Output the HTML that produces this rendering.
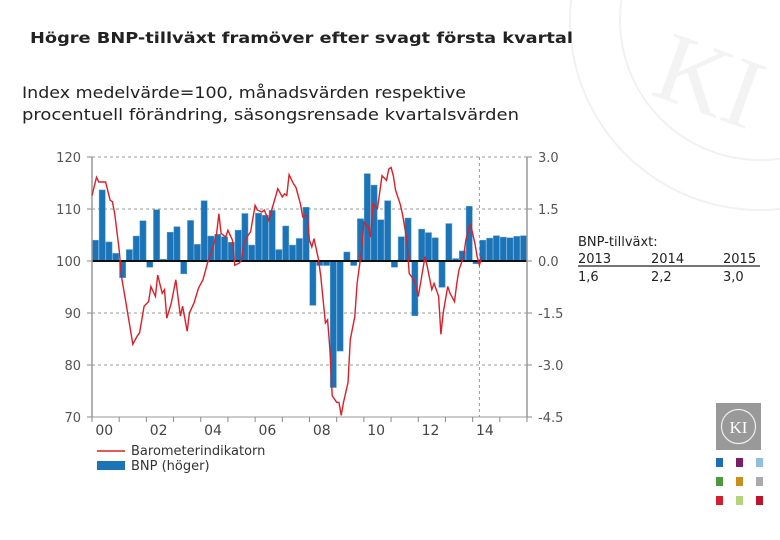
<!DOCTYPE html>
<html><head><meta charset="utf-8">
<style>
body{margin:0;background:#fff;}
#wrap{position:relative;width:780px;height:540px;overflow:hidden;font-family:"DejaVu Sans","Liberation Sans",sans-serif;}
</style></head>
<body>
<div id="wrap">
<svg id="chart" width="780" height="540" xmlns="http://www.w3.org/2000/svg" font-family="DejaVu Sans, Liberation Sans, sans-serif">
  <g fill="none" stroke="#f1f1f1" stroke-width="2">
    <circle cx="760" cy="20" r="190"/>
    <circle cx="760" cy="20" r="140"/>
    <text x="660" y="110" font-size="100" fill="#f3f3f3" stroke="none" font-family="Liberation Serif,serif" transform="rotate(20 700 70)">KI</text>
  </g>
  <text x="30" y="43" font-size="15" font-weight="bold" fill="#222" textLength="543" lengthAdjust="spacingAndGlyphs">Högre BNP-tillväxt framöver efter svagt första kvartal</text>
  <text x="22" y="98" font-size="16" fill="#222" textLength="444" lengthAdjust="spacingAndGlyphs">Index medelvärde=100, månadsvärden respektive</text>
  <text x="22" y="120" font-size="16" fill="#222" textLength="497" lengthAdjust="spacingAndGlyphs">procentuell förändring, säsongsrensade kvartalsvärden</text>
  <g id="grid"></g>
  <g id="bars"></g>
  <g id="axes"></g>
  <path id="line" fill="none" stroke="#e01e26" stroke-width="1.4"/>
  <g font-size="13" fill="#333">
    <line x1="97" y1="451" x2="125" y2="451" stroke="#e01e26" stroke-width="1.5"/>
    <text x="131" y="455">Barometerindikatorn</text>
    <rect x="97" y="461" width="28" height="9" fill="#1b74b8"/>
    <text x="131" y="470">BNP (höger)</text>
  </g>
  <g font-size="13" fill="#222">
    <text x="578" y="246">BNP-tillväxt:</text>
    <text x="578" y="263">2013</text><text x="651" y="263">2014</text><text x="723" y="263">2015</text>
    <line x1="578" y1="266" x2="760" y2="266" stroke="#222" stroke-width="1.2"/>
    <text x="578" y="281">1,6</text><text x="651" y="281">2,2</text><text x="723" y="281">3,0</text>
  </g>
  <g>
    <rect x="716" y="403" width="45" height="47" fill="#999"/>
    <circle cx="738.5" cy="426.5" r="17" fill="none" stroke="#eee" stroke-width="1.2"/>
    <text x="738.5" y="433" font-size="17" fill="#fff" text-anchor="middle" font-family="Liberation Serif,serif">KI</text>
  </g>
  <g>
    <rect x="716" y="458" width="7" height="9" fill="#1d6fb5"/><rect x="736" y="458" width="7" height="9" fill="#7a1f66"/><rect x="756" y="458" width="7" height="9" fill="#8fbfdc"/>
    <rect x="716" y="477" width="7" height="9" fill="#4b9a3c"/><rect x="736" y="477" width="7" height="9" fill="#c8901a"/><rect x="756" y="477" width="7" height="9" fill="#aaa"/>
    <rect x="716" y="496" width="7" height="9" fill="#d3202f"/><rect x="736" y="496" width="7" height="9" fill="#b3d47a"/><rect x="756" y="496" width="7" height="9" fill="#c0122a"/>
  </g>
</svg>
</div>
<script>
// BNP quarterly growth (%), 2000Q1..2015Q4
const bnpValues = [0.60,2.05,0.55,0.22, -0.48,0.33,0.72,1.16, -0.18,1.48,0.05,0.83, 0.99,-0.37,1.17,0.48,
 1.74,0.72,0.77,0.70, 0.54,0.89,1.37,0.46, 1.38,1.32,1.46,0.33, 1.01,0.46,0.65,1.55,
 -1.28,-0.13,-0.13,-3.65, -2.60,0.26,-0.13,1.22, 2.52,2.19,1.19,1.74, -0.18,0.70,1.24,-1.58,
 0.92,0.82,0.67,-0.76, 1.08,0.07,0.29,1.58, -0.08,0.60,0.66,0.73, 0.69,0.67,0.71,0.73];
// Barometer indicator: month index since Jan 2000, value
const baroMonths = [0,2,3,6,8,9,10,12,13,15,18,20,21,23,25,26,28,29,31,32,33,35,37,39,40,42,43,45,47,49,51,53,55,56,57,59,60,62,63,65,66,67,69,70,72,73,75,76,78,79,81,82,84,85,86,87,89,90,92,93,95,96,97,98,100,101,103,104,105,106,108,109,110,111,113,114,116,117,119,120,122,123,124,126,127,128,130,131,132,133,134,136,137,139,140,142,143,144,146,147,148,150,151,153,154,155,157,158,160,161,162,164,165,167,169,170,171,172];
const baroValues = [112.6,116.1,115.2,115.2,111.7,111.4,109.1,102.1,97.0,91.9,84.0,85.6,86.2,91.3,92.2,95.1,93.2,97.3,93.8,94.5,89.0,91.9,96.4,89.4,91.3,86.5,90.0,91.9,94.8,96.4,99.6,102.1,105.3,109.1,105.3,104.6,105.9,104.0,99.2,99.6,100.2,103.4,105.0,105.6,110.7,109.8,109.4,109.8,107.8,109.4,112.3,113.9,112.3,112.9,112.6,116.6,114.8,114.2,111.0,108.5,108.8,104.0,102.7,104.3,100.2,97.0,88.1,88.7,83.0,74.1,72.8,72.8,70.3,72.8,76.6,84.9,89.3,95.7,102.1,107.5,106.5,104.6,111.0,110.1,113.2,116.4,115.5,117.7,118.0,116.4,113.6,111.0,109.1,104.0,97.6,96.4,95.1,93.2,98.3,100.8,98.9,94.5,95.7,93.2,85.9,90.0,95.1,93.8,92.2,95.7,98.3,100.8,104.0,107.2,103.4,100.8,99.2,100.8];
const leftTicks = [120,110,100,90,80,70];
const rightTicks = ["3.0","1.5","0.0","-1.5","-3.0","-4.5"];
const yearLabels = ["00","02","04","06","08","10","12","14"];

const X0=92,X1=527,Y0=157,Y1=417,YEARS=16;
const xYear=t=>X0+(X1-X0)*t/YEARS;
const yL=v=>Y0+(120-v)*(Y1-Y0)/50;
const yR=v=>Y0+(3-v)*(Y1-Y0)/7.5;
const NS="http://www.w3.org/2000/svg";
function mk(tag,attrs,parent){const e=document.createElementNS(NS,tag);for(const k in attrs)e.setAttribute(k,attrs[k]);document.getElementById(parent).appendChild(e);return e;}

leftTicks.forEach((v,i)=>{
  const y=yL(v);
  const g=mk('line',{x1:X0,x2:X1,y1:y,y2:y,stroke:'#999','stroke-width':1,'stroke-dasharray':'3,3'},'grid');
  
  
  const t=mk('text',{x:81,y:y+5,'font-size':13,fill:'#555','text-anchor':'end'},'axes');t.textContent=v;
  
  
  const r=mk('text',{x:538,y:y+5,'font-size':13,fill:'#555'},'axes');r.textContent=rightTicks[i];
  
  
  mk('line',{x1:X1,x2:X1+5,y1:y,y2:y,stroke:'#888'},'axes');
  mk('line',{x1:X0-5,x2:X0,y1:y,y2:y,stroke:'#888'},'axes');
});
const vd=mk('line',{x1:xYear(14.25),x2:xYear(14.25),y1:Y0,y2:Y1,stroke:'#999','stroke-dasharray':'3,3'},'grid');



const bw=(X1-X0)/(YEARS*4);
bnpValues.forEach((v,i)=>{
  const x=X0+i*bw,y0=yR(0),y=yR(v);
  const b=mk('rect',{x:x+0.3,y:Math.min(y,y0),width:bw-0.6,height:Math.abs(y-y0),fill:'#1b74b8',stroke:'#5d9fd0','stroke-width':0.5},'bars');
  
  
});
mk('line',{x1:X0,x2:X1,y1:yR(0),y2:yR(0),stroke:'#111','stroke-width':2},'axes');
mk('line',{x1:X0,x2:X0,y1:Y0,y2:Y1,stroke:'#999','stroke-width':1.5},'axes');
mk('line',{x1:X1,x2:X1,y1:Y0,y2:Y1,stroke:'#999','stroke-width':1.5},'axes');
mk('line',{x1:X0,x2:X1,y1:Y1,y2:Y1,stroke:'#999','stroke-width':1},'axes');
for(let t=0;t<=YEARS;t++) mk('line',{x1:xYear(t),x2:xYear(t),y1:Y1,y2:Y1+5,stroke:'#888'},'axes');
yearLabels.forEach((l,i)=>{
  const t=mk('text',{x:xYear(i*2+0.45),y:Y1+18,'font-size':14,fill:'#444','text-anchor':'middle'},'axes');t.textContent=l;
  
  
});
let d='';
baroMonths.forEach((m,i)=>{d+=(i?'L':'M')+xYear(m/12).toFixed(1)+','+yL(baroValues[i]).toFixed(1);});
document.getElementById('line').setAttribute('d',d);
</script>
</body></html>
